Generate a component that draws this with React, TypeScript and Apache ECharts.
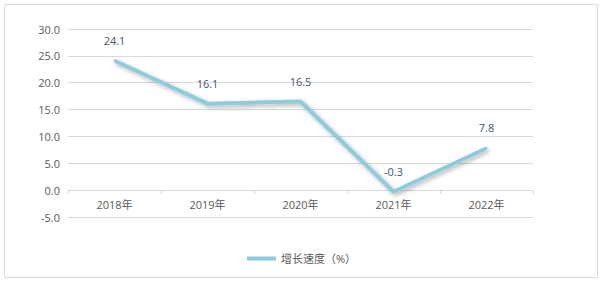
import React, { useEffect, useRef } from "react";
import * as echarts from "echarts";

const categories = ["2018年", "2019年", "2020年", "2021年", "2022年"];
const growthValues = [24.1, 16.1, 16.5, -0.3, 7.8];
const seriesName = "增长速度（%）";

export default function App() {
  const ref = useRef<HTMLDivElement>(null);
  useEffect(() => {
    if (!ref.current) return;
    const chart = echarts.init(ref.current, null, { renderer: "svg" });
    const font = "'Open Sans', 'Noto Sans CJK SC', sans-serif";
    chart.setOption({
      animation: false,
      textStyle: { fontFamily: font },
      graphic: [
        {
          type: "rect",
          shape: { x: 4.5, y: 4.5, width: 593, height: 273 },
          style: { fill: "none", stroke: "#d9dde3", lineWidth: 1 },
          silent: true,
        },
      ],
      grid: { left: 68, right: 70, top: 29, bottom: 66, containLabel: false },
      legend: {
        data: [{ name: seriesName, itemStyle: { color: "#8ecbdb", opacity: 1 } }],
        bottom: 14,
        left: "center",
        icon: "rect",
        itemWidth: 29,
        itemHeight: 4,
        itemGap: 4,
        textStyle: { color: "#595959", fontSize: 11, fontFamily: font },
      },
      xAxis: {
        type: "category",
        data: categories,
        boundaryGap: true,
        axisLine: { onZero: true, lineStyle: { color: "#d9d9d9", width: 1 } },
        axisTick: { show: true, length: 4, lineStyle: { color: "#d9d9d9" } },
        axisLabel: { color: "#595959", fontSize: 11, margin: -18, fontFamily: font },
        splitLine: { show: false },
      },
      yAxis: {
        type: "value",
        min: -5,
        max: 30,
        interval: 5,
        axisLine: { show: false },
        axisTick: { show: false },
        axisLabel: {
          color: "#595959",
          fontSize: 11,
          margin: 8,
          fontFamily: font,
          formatter: (v: number) => v.toFixed(1),
        },
        splitLine: { lineStyle: { color: "#d9d9d9", width: 1 } },
      },
      series: [
        {
          name: seriesName,
          type: "line",
          data: growthValues,
          symbol: "circle",
          symbolSize: 2,
          showSymbol: true,
          lineStyle: {
            color: "#8ecbdb",
            width: 4,
            shadowColor: "rgba(0,0,0,0.3)",
            shadowBlur: 4,
            shadowOffsetX: 2,
            shadowOffsetY: 2,
          },
          itemStyle: { color: "#8ecbdb", borderWidth: 0 },
          label: {
            show: true,
            position: "top",
            distance: 14,
            color: "#44546a",
            fontSize: 11,
            fontFamily: font,
            formatter: "{c}",
          },
          labelLayout: { hideOverlap: false },
        },
      ],
    });
    return () => chart.dispose();
  }, []);
  return (
    <div
      ref={ref}
      style={{ position: "absolute", left: 0, top: 0, width: 603, height: 283, background: "#fff" }}
    />
  );
}
